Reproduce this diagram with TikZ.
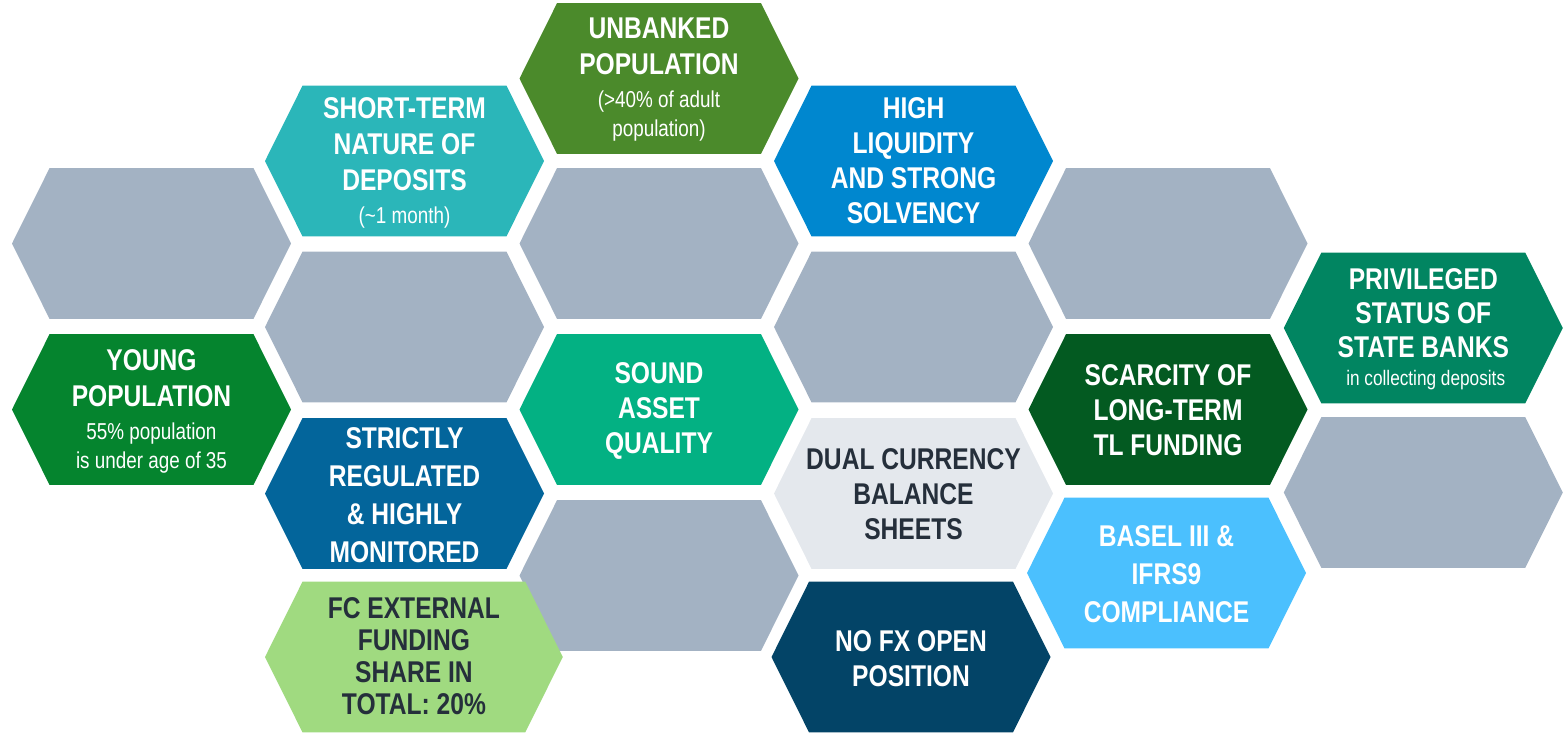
\documentclass[tikz,border=0pt]{standalone}
\usepackage{fontspec}
\setmainfont{Liberation Sans}[FakeStretch=0.82]

\definecolor{cellgray}{HTML}{A3B2C3}
\definecolor{cUnbanked}{HTML}{4B8A2B}
\definecolor{cShortTerm}{HTML}{2BB6B9}
\definecolor{cLiquidity}{HTML}{0087CF}
\definecolor{cYoung}{HTML}{05842E}
\definecolor{cSound}{HTML}{03B183}
\definecolor{cRegulated}{HTML}{03659B}
\definecolor{cDual}{HTML}{E4E8ED}
\definecolor{cFc}{HTML}{A0DA80}
\definecolor{cNoFx}{HTML}{034467}
\definecolor{cScarcity}{HTML}{035A21}
\definecolor{cBasel}{HTML}{4BC0FE}
\definecolor{cPrivileged}{HTML}{018561}
\definecolor{ink}{HTML}{252F3B}

% small regular line under a heading
\newcommand\subline[1][23]{\mdseries\fontsize{#1}{27}\selectfont}

\tikzset{
  pics/hexa/.style={code={
    \fill (-#1,0) -- (-#1+37.5,-75.3) -- (#1-37.5,-75.3) -- (#1,0)
      -- (#1-37.5,75.3) -- (-#1+37.5,75.3) -- cycle;}},
  pics/hexa/.default=139.5,
  celltext/.style={align=center,inner sep=0pt,text=white,
    font=\bfseries\fontsize{30}{#1}\selectfont},
  celltext/.default=36,
  darktext/.style={text=ink}
}

\begin{document}
\begin{tikzpicture}[x=1pt,y=-1pt]
  \useasboundingbox (0,0) rectangle (1563,732);

  % empty cells
  \foreach \x/\y in {151.5/243.5, 404.5/327, 659/243.5, 913.5/327,
                     659/575.5, 1168/243.5, 1423.3/492.5}
    \pic[fill=cellgray] at (\x,\y) {hexa};

  % top
  \pic[fill=cUnbanked] at (659,78.5) {hexa};
  \node[celltext] (unbanked) at (659,80) {UNBANKED\\POPULATION\\[-3pt]{\subline (>40\% of adult}\\[-7pt]{\subline population)}};

  \pic[fill=cShortTerm] at (404.5,161) {hexa};
  \node[celltext] (shortterm) at (404.5,163) {SHORT-TERM\\NATURE OF\\DEPOSITS\\[-3pt]{\subline (\textasciitilde1 month)}};

  \pic[fill=cLiquidity] at (913.5,161) {hexa};
  \node[celltext=35] (liquidity) at (913.5,161) {HIGH\\LIQUIDITY\\AND STRONG\\SOLVENCY};

  % middle
  \pic[fill=cYoung] at (151.5,409.5) {hexa};
  \node[celltext] (young) at (151.5,411) {YOUNG\\POPULATION\\[-3pt]{\subline 55\% population}\\[-7pt]{\subline is under age of 35}};

  \pic[fill=cSound] at (659,409.5) {hexa};
  \node[celltext=35] (sound) at (659,411) {SOUND\\ASSET\\QUALITY};

  \pic[fill=cScarcity] at (1168,409.5) {hexa};
  \node[celltext=35] (scarcity) at (1168,410) {SCARCITY OF\\LONG-TERM\\TL FUNDING};

  \pic[fill=cPrivileged] at (1423.3,328) {hexa};
  \node[celltext=34] (privileged) at (1423.3,329) {PRIVILEGED\\STATUS OF\\STATE BANKS\\[-6pt]{\subline[21] in collecting deposits}};

  \pic[fill=cRegulated] at (404.5,493.5) {hexa};
  \node[celltext=38] (regulated) at (404.5,495) {STRICTLY\\REGULATED\\\& HIGHLY\\MONITORED};

  \pic[fill=cDual] at (913.5,493.5) {hexa};
  \node[celltext=35,darktext] (dual) at (913.5,494) {DUAL CURRENCY\\BALANCE\\SHEETS};

  % bottom
  \pic[fill=cFc] at (413.9,657) {hexa=148.9};
  \node[celltext=32,darktext] (fcfunding) at (413.9,656) {FC EXTERNAL\\FUNDING\\SHARE IN\\TOTAL: 20\%};

  \pic[fill=cNoFx] at (911,657) {hexa};
  \node[celltext=35] (nofx) at (911,659) {NO FX OPEN\\POSITION};

  \pic[fill=cBasel] at (1166.5,573) {hexa};
  \node[celltext=38] (basel) at (1166.5,574) {BASEL III \&\\IFRS9\\COMPLIANCE};
\end{tikzpicture}
\end{document}
